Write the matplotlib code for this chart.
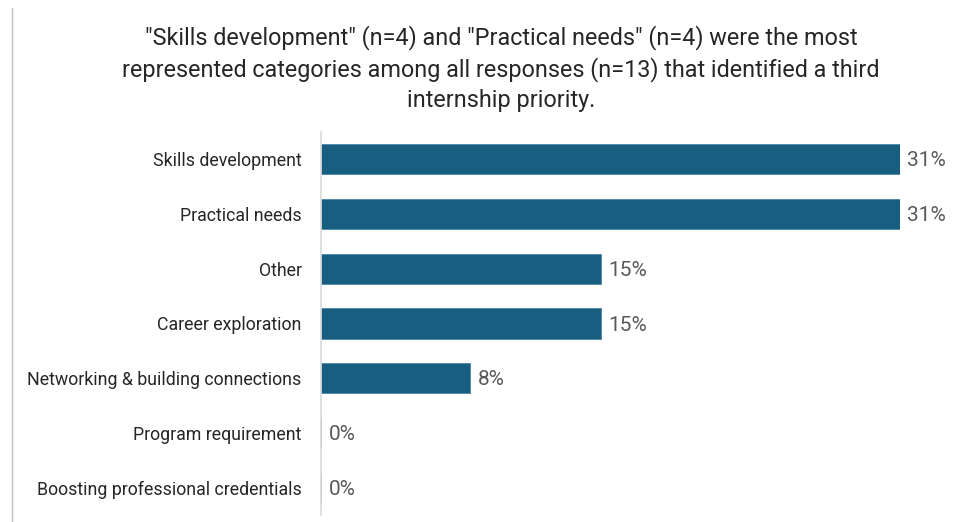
import matplotlib.pyplot as plt
from matplotlib.lines import Line2D

categories = [
    "Skills development",
    "Practical needs",
    "Other",
    "Career exploration",
    "Networking & building connections",
    "Program requirement",
    "Boosting professional credentials",
]
shares = [31, 31, 15, 15, 8, 0, 0]
labels = ["31%", "31%", "15%", "15%", "8%", "0%", "0%"]

title = ('"Skills development" (n=4) and "Practical needs" (n=4) were the most\n'
         'represented categories among all responses (n=13) that identified a third\n'
         'internship priority.')

plt.rcParams['font.family'] = ['Roboto', 'DejaVu Sans']

W, H = 964, 522
fig = plt.figure(figsize=(W / 100, H / 100), dpi=100)
ax = fig.add_axes([321 / W, 1 - 515 / H, (900 - 321) / W, (515 - 132) / H])

ypos = list(range(len(categories)))
ax.barh(ypos, shares, height=0.55, color="#175e80", edgecolor="#4a88a8", linewidth=0.6)
ax.set_ylim(len(categories) - 0.5, -0.5)
ax.set_xlim(0, 31)

for y, v, lab in zip(ypos, shares, labels):
    ax.text(v + 0.4, y + 0.03, lab, va="center", ha="left", fontsize=15,
            color="#595959", clip_on=False)

ax.set_yticks(ypos)
ax.set_yticklabels(categories, fontsize=12.8, color="#262626")
ax.tick_params(axis="y", length=0, pad=14)
ax.set_xticks([])
for side in ["top", "right", "bottom"]:
    ax.spines[side].set_visible(False)
ax.spines["left"].set_color("#d9d9d9")
ax.spines["left"].set_linewidth(1.2)

fig.text(501 / W, 1 - 25 / H, title, ha="center", va="top", fontsize=16.8,
         color="#262626", linespacing=1.38)

# thin frame line down the left edge
fig.add_artist(Line2D([12 / W, 12 / W], [0, 1 - 8 / H], color="#bfbfbf", linewidth=1))

fig.savefig("out.png", dpi=100)
